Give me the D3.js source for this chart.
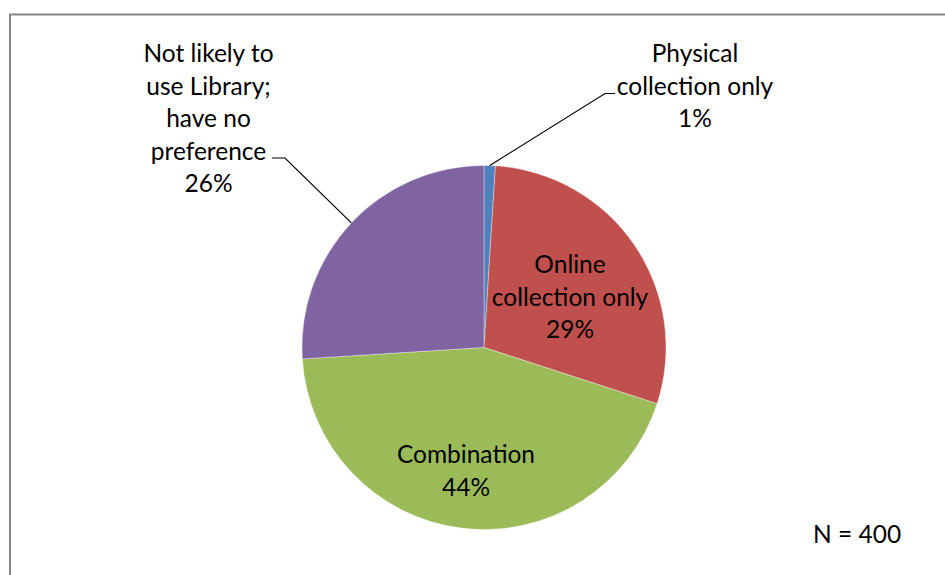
<!DOCTYPE html>
<html>
<head>
<meta charset="utf-8">
<script src="https://cdn.jsdelivr.net/npm/d3@7"></script>
<style>
  html, body { margin: 0; padding: 0; background: #fff; }
  svg { display: block; }
  text { font-family: Lato, "Open Sans", sans-serif; fill: #000; }
</style>
</head>
<body>
<svg id="chart" width="945" height="575"></svg>
<script>
// Library collection preference (N = 400)
const categories = [
  "Physical collection only",
  "Online collection only",
  "Combination",
  "Not likely to use Library; have no preference"
];
const percents = [1, 29, 44, 26];
const colors = ["#4F81BD", "#C0504D", "#9BBB59", "#8064A2"];
const labelLines = [
  ["Physical", "collection only", "1%"],
  ["Online", "collection only", "29%"],
  ["Combination", "44%"],
  ["Not likely to", "use Library;", "have no", "preference", "26%"]
];
const sampleNote = "N = 400";

const W = 945, H = 575;
const cx = 484, cy = 347.5, R = 182;
const fontSize = 24.5, lineH = 32.5;

const svg = d3.select("#chart");

// chart area frame
svg.append("rect")
  .attr("x", 10).attr("y", 14.5)
  .attr("width", W).attr("height", H)
  .attr("fill", "#fff")
  .attr("stroke", "#868686")
  .attr("stroke-width", 2);

const pie = d3.pie().sort(null).value(d => d.value);
const arcs = pie(categories.map((c, i) => ({ name: c, value: percents[i], color: colors[i], lines: labelLines[i] })));
const arc = d3.arc().innerRadius(0).outerRadius(R);

const g = svg.append("g").attr("transform", `translate(${cx},${cy})`);
g.selectAll("path.slice")
  .data(arcs)
  .join("path")
  .attr("class", "slice")
  .attr("d", arc)
  .attr("fill", d => d.data.color)
  .attr("stroke", "#fff")
  .attr("stroke-opacity", 0.6)
  .attr("stroke-width", 0.6);

// label anchor (centre x, first baseline y) in page coordinates
const labelPos = [
  { x: 695, y: 62, outside: true, stubX: [615, 605], stubY: 93.5 },
  { x: 570, y: 273, outside: false },
  { x: 466, y: 463, outside: false },
  { x: 208.5, y: 62, outside: true, stubX: [272, 285], stubY: 158 }
];

// leader lines for labels placed outside the pie
arcs.forEach((d, i) => {
  const p = labelPos[i];
  if (!p.outside) return;
  const mid = (d.startAngle + d.endAngle) / 2;
  const ex = cx + R * Math.sin(mid), ey = cy - R * Math.cos(mid);
  svg.append("path")
    .attr("d", d3.line()([[p.stubX[0], p.stubY], [p.stubX[1], p.stubY], [ex, ey]]))
    .attr("fill", "none")
    .attr("stroke", "#000")
    .attr("stroke-width", 1.2);
});

arcs.forEach((d, i) => {
  const p = labelPos[i];
  const t = svg.append("text")
    .attr("text-anchor", "middle")
    .attr("font-size", fontSize);
  d.data.lines.forEach((ln, k) => {
    t.append("tspan").attr("x", p.x).attr("y", p.y + k * lineH).text(ln);
  });
});

svg.append("text")
  .attr("x", 813).attr("y", 543)
  .attr("font-size", fontSize)
  .text(sampleNote);
</script>
</body>
</html>
